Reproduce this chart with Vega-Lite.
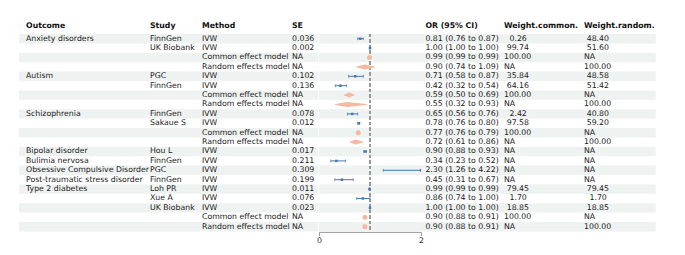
{
  "$schema": "https://vega.github.io/schema/vega-lite/v6.json",
  "padding": {"left": 19, "top": 22, "right": 0, "bottom": 0},
  "background": "white",
  "bounds": "flush",
  "spacing": 0,
  "config": {
    "view": {"stroke": null},
    "font": "DejaVu Sans",
    "text": {"font": "DejaVu Sans", "fontSize": 7.8, "color": "#222"},
    "title": {"anchor": "start", "frame": "group", "font": "DejaVu Sans", "fontSize": 7.8, "fontWeight": "bold", "color": "#111", "offset": 0}
  },
  "datasets": {
    "t": [
      {"row": 1, "outcome": "Anxiety disorders", "study": "FinnGen", "method": "IVW", "se": "0.036", "ortext": "0.81 (0.76 to 0.87)", "wc": "0.26", "wr": "48.40", "est": 0.81, "lo": 0.76, "hi": 0.87},
      {"row": 2, "outcome": "", "study": "UK Biobank", "method": "IVW", "se": "0.002", "ortext": "1.00 (1.00 to 1.00)", "wc": "99.74", "wr": "51.60", "est": 1.0, "lo": 0.997, "hi": 1.003},
      {"row": 3, "outcome": "", "study": "", "method": "Common effect model", "se": "NA", "ortext": "0.99 (0.99 to 0.99)", "wc": "100.00", "wr": "NA", "est": 0.99, "lo": 0.987, "hi": 0.993},
      {"row": 4, "outcome": "", "study": "", "method": "Random effects model", "se": "NA", "ortext": "0.90 (0.74 to 1.09)", "wc": "NA", "wr": "100.00", "est": 0.90, "lo": 0.74, "hi": 1.09},
      {"row": 5, "outcome": "Autism", "study": "PGC", "method": "IVW", "se": "0.102", "ortext": "0.71 (0.58 to 0.87)", "wc": "35.84", "wr": "48.58", "est": 0.71, "lo": 0.58, "hi": 0.87},
      {"row": 6, "outcome": "", "study": "FinnGen", "method": "IVW", "se": "0.136", "ortext": "0.42 (0.32 to 0.54)", "wc": "64.16", "wr": "51.42", "est": 0.42, "lo": 0.32, "hi": 0.54},
      {"row": 7, "outcome": "", "study": "", "method": "Common effect model", "se": "NA", "ortext": "0.59 (0.50 to 0.69)", "wc": "100.00", "wr": "NA", "est": 0.59, "lo": 0.50, "hi": 0.69},
      {"row": 8, "outcome": "", "study": "", "method": "Random effects model", "se": "NA", "ortext": "0.55 (0.32 to 0.93)", "wc": "NA", "wr": "100.00", "est": 0.55, "lo": 0.32, "hi": 0.93},
      {"row": 9, "outcome": "Schizophrenia", "study": "FinnGen", "method": "IVW", "se": "0.078", "ortext": "0.65 (0.56 to 0.76)", "wc": "2.42", "wr": "40.80", "est": 0.65, "lo": 0.56, "hi": 0.76},
      {"row": 10, "outcome": "", "study": "Sakaue S", "method": "IVW", "se": "0.012", "ortext": "0.78 (0.76 to 0.80)", "wc": "97.58", "wr": "59.20", "est": 0.78, "lo": 0.76, "hi": 0.80},
      {"row": 11, "outcome": "", "study": "", "method": "Common effect model", "se": "NA", "ortext": "0.77 (0.76 to 0.79)", "wc": "100.00", "wr": "NA", "est": 0.77, "lo": 0.76, "hi": 0.79},
      {"row": 12, "outcome": "", "study": "", "method": "Random effects model", "se": "NA", "ortext": "0.72 (0.61 to 0.86)", "wc": "NA", "wr": "100.00", "est": 0.72, "lo": 0.61, "hi": 0.86},
      {"row": 13, "outcome": "Bipolar disorder", "study": "Hou L", "method": "IVW", "se": "0.017", "ortext": "0.90 (0.88 to 0.93)", "wc": "NA", "wr": "NA", "est": 0.90, "lo": 0.88, "hi": 0.93},
      {"row": 14, "outcome": "Bulimia nervosa", "study": "FinnGen", "method": "IVW", "se": "0.211", "ortext": "0.34 (0.23 to 0.52)", "wc": "NA", "wr": "NA", "est": 0.34, "lo": 0.23, "hi": 0.52},
      {"row": 15, "outcome": "Obsessive Compulsive Disorder", "study": "PGC", "method": "IVW", "se": "0.309", "ortext": "2.30 (1.26 to 4.22)", "wc": "NA", "wr": "NA", "est": 2.30, "lo": 1.26, "hi": 4.22},
      {"row": 16, "outcome": "Post-traumatic stress disorder", "study": "FinnGen", "method": "IVW", "se": "0.199", "ortext": "0.45 (0.31 to 0.67)", "wc": "NA", "wr": "NA", "est": 0.45, "lo": 0.31, "hi": 0.67},
      {"row": 17, "outcome": "Type 2 diabetes", "study": "Loh PR", "method": "IVW", "se": "0.011", "ortext": "0.99 (0.99 to 0.99)", "wc": "79.45", "wr": "79.45", "est": 0.99, "lo": 0.988, "hi": 0.992},
      {"row": 18, "outcome": "", "study": "Xue A", "method": "IVW", "se": "0.076", "ortext": "0.86 (0.74 to 1.00)", "wc": "1.70", "wr": "1.70", "est": 0.86, "lo": 0.74, "hi": 1.00},
      {"row": 19, "outcome": "", "study": "UK Biobank", "method": "IVW", "se": "0.023", "ortext": "1.00 (1.00 to 1.00)", "wc": "18.85", "wr": "18.85", "est": 1.0, "lo": 0.995, "hi": 1.005},
      {"row": 20, "outcome": "", "study": "", "method": "Common effect model", "se": "NA", "ortext": "0.90 (0.88 to 0.91)", "wc": "100.00", "wr": "NA", "est": 0.90, "lo": 0.88, "hi": 0.91},
      {"row": 21, "outcome": "", "study": "", "method": "Random effects model", "se": "NA", "ortext": "0.90 (0.88 to 0.91)", "wc": "NA", "wr": "100.00", "est": 0.90, "lo": 0.88, "hi": 0.91}
    ]
  },
  "data": {"name": "t"},
  "resolve": {"scale": {"x": "independent"}},
  "hconcat": [
    {
      "width": 131, "height": 197.4,
      "title": {"text": "Outcome", "dx": 7},
      "layer": [
        {"transform": [{"filter": "datum.row % 2 == 1"}], "mark": {"type": "rect", "color": "#EEF2F1"}, "encoding": {"y": {"field": "row", "type": "ordinal", "scale": {"paddingInner": 0, "paddingOuter": 0}, "axis": null}}},
        {"mark": {"type": "text", "align": "left", "baseline": "middle", "dx": 7}, "encoding": {"x": {"datum": 0, "type": "quantitative", "scale": {"domain": [0, 1]}, "axis": null}, "y": {"field": "row", "type": "ordinal", "axis": null}, "text": {"field": "outcome"}}}
      ]
    },
    {
      "width": 52, "height": 197.4,
      "title": {"text": "Study"},
      "layer": [
        {"transform": [{"filter": "datum.row % 2 == 1"}], "mark": {"type": "rect", "color": "#EEF2F1"}, "encoding": {"y": {"field": "row", "type": "ordinal", "scale": {"paddingInner": 0, "paddingOuter": 0}, "axis": null}}},
        {"mark": {"type": "text", "align": "left", "baseline": "middle"}, "encoding": {"x": {"datum": 0, "type": "quantitative", "scale": {"domain": [0, 1]}, "axis": null}, "y": {"field": "row", "type": "ordinal", "axis": null}, "text": {"field": "study"}}}
      ]
    },
    {
      "width": 90, "height": 197.4,
      "title": {"text": "Method"},
      "layer": [
        {"transform": [{"filter": "datum.row % 2 == 1"}], "mark": {"type": "rect", "color": "#EEF2F1"}, "encoding": {"y": {"field": "row", "type": "ordinal", "scale": {"paddingInner": 0, "paddingOuter": 0}, "axis": null}}},
        {"mark": {"type": "text", "align": "left", "baseline": "middle"}, "encoding": {"x": {"datum": 0, "type": "quantitative", "scale": {"domain": [0, 1]}, "axis": null}, "y": {"field": "row", "type": "ordinal", "axis": null}, "text": {"field": "method"}}}
      ]
    },
    {
      "width": 26.3, "height": 197.4,
      "title": {"text": "SE"},
      "layer": [
        {"transform": [{"filter": "datum.row % 2 == 1"}], "mark": {"type": "rect", "color": "#EEF2F1"}, "encoding": {"y": {"field": "row", "type": "ordinal", "scale": {"paddingInner": 0, "paddingOuter": 0}, "axis": null}}},
        {"mark": {"type": "text", "align": "left", "baseline": "middle"}, "encoding": {"x": {"datum": 0, "type": "quantitative", "scale": {"domain": [0, 1]}, "axis": null}, "y": {"field": "row", "type": "ordinal", "axis": null}, "text": {"field": "se"}}}
      ]
    },
    {
      "width": 102, "height": 197.4,
      "layer": [
        {"transform": [{"filter": "datum.row % 2 == 1"}], "mark": {"type": "rect", "color": "#EEF2F1"}, "encoding": {"y": {"field": "row", "type": "ordinal", "scale": {"paddingInner": 0, "paddingOuter": 0}, "axis": null}}},
        {"mark": {"type": "rule", "strokeDash": [3, 2.5], "color": "#9a9a9a", "strokeWidth": 1}, "encoding": {"x": {"datum": 1, "type": "quantitative", "scale": {"domain": [0, 2], "clamp": true, "nice": false, "zero": false}, "axis": {"values": [0, 1, 2], "format": "d", "grid": false, "title": null, "offset": 0.5, "tickSize": 3.5, "domainColor": "#9a9a9a", "tickColor": "#9a9a9a", "labelColor": "#333", "labelFontSize": 7.8, "labelFont": "DejaVu Sans", "labelPadding": 1, "labelFlush": false}}}},
        {"transform": [{"filter": "datum.method === 'IVW'"}], "mark": {"type": "rule", "color": "#4575b4", "strokeWidth": 1}, "encoding": {"x": {"field": "lo", "type": "quantitative", "title": null}, "x2": {"field": "hi"}, "y": {"field": "row", "type": "ordinal", "axis": null}}},
        {"transform": [{"filter": "datum.method === 'IVW'"}], "mark": {"type": "tick", "color": "#4575b4", "thickness": 1, "size": 3}, "encoding": {"x": {"field": "lo", "type": "quantitative", "title": null}, "y": {"field": "row", "type": "ordinal", "axis": null}}},
        {"transform": [{"filter": "datum.method === 'IVW'"}], "mark": {"type": "tick", "color": "#4575b4", "thickness": 1, "size": 3}, "encoding": {"x": {"field": "hi", "type": "quantitative", "title": null}, "y": {"field": "row", "type": "ordinal", "axis": null}}},
        {"transform": [{"filter": "datum.method === 'IVW'"}], "mark": {"type": "point", "shape": "square", "filled": true, "color": "#4575b4", "size": 6, "opacity": 1}, "encoding": {"x": {"field": "est", "type": "quantitative", "title": null}, "y": {"field": "row", "type": "ordinal", "axis": null}}},
        {"transform": [{"filter": "datum.method !== 'IVW'"}], "mark": {"type": "tick", "color": "#EBCB8B", "thickness": 1.5, "size": 4}, "encoding": {"x": {"field": "est", "type": "quantitative", "title": null}, "y": {"field": "row", "type": "ordinal", "axis": null}}},
        {"transform": [{"filter": "datum.method !== 'IVW'"}, {"fold": ["lo", "est", "hi"]}], "mark": {"type": "trail", "color": "#F5B9A2"}, "encoding": {"x": {"field": "value", "type": "quantitative", "title": null}, "y": {"field": "row", "type": "ordinal", "axis": null}, "detail": {"field": "row"}, "size": {"condition": {"test": "datum.key === 'est'", "value": 5}, "value": 0}}}
      ]
    },
    {
      "width": 83, "height": 197.4,
      "title": {"text": "OR (95% CI)", "dx": 4.4},
      "layer": [
        {"transform": [{"filter": "datum.row % 2 == 1"}], "mark": {"type": "rect", "color": "#EEF2F1"}, "encoding": {"y": {"field": "row", "type": "ordinal", "scale": {"paddingInner": 0, "paddingOuter": 0}, "axis": null}}},
        {"mark": {"type": "text", "align": "left", "baseline": "middle", "dx": 4.4}, "encoding": {"x": {"datum": 0, "type": "quantitative", "scale": {"domain": [0, 1]}, "axis": null}, "y": {"field": "row", "type": "ordinal", "axis": null}, "text": {"field": "ortext"}}}
      ]
    },
    {
      "width": 80, "height": 197.4,
      "title": {"text": "Weight.common."},
      "layer": [
        {"transform": [{"filter": "datum.row % 2 == 1"}], "mark": {"type": "rect", "color": "#EEF2F1"}, "encoding": {"y": {"field": "row", "type": "ordinal", "scale": {"paddingInner": 0, "paddingOuter": 0}, "axis": null}}},
        {"transform": [{"filter": "length(datum.wc) != 4 && length(datum.wc) != 5"}], "mark": {"type": "text", "align": "left", "baseline": "middle"}, "encoding": {"x": {"datum": 0, "type": "quantitative", "scale": {"domain": [0, 1]}, "axis": null}, "y": {"field": "row", "type": "ordinal", "axis": null}, "text": {"field": "wc"}}},
        {"transform": [{"filter": "length(datum.wc) == 5"}], "mark": {"type": "text", "align": "left", "baseline": "middle", "dx": 2.7}, "encoding": {"x": {"datum": 0, "type": "quantitative", "scale": {"domain": [0, 1]}, "axis": null}, "y": {"field": "row", "type": "ordinal", "axis": null}, "text": {"field": "wc"}}},
        {"transform": [{"filter": "length(datum.wc) == 4"}], "mark": {"type": "text", "align": "left", "baseline": "middle", "dx": 5.5}, "encoding": {"x": {"datum": 0, "type": "quantitative", "scale": {"domain": [0, 1]}, "axis": null}, "y": {"field": "row", "type": "ordinal", "axis": null}, "text": {"field": "wc"}}}
      ]
    },
    {
      "width": 71.7, "height": 197.4,
      "title": {"text": "Weight.random."},
      "layer": [
        {"transform": [{"filter": "datum.row % 2 == 1"}], "mark": {"type": "rect", "color": "#EEF2F1"}, "encoding": {"y": {"field": "row", "type": "ordinal", "scale": {"paddingInner": 0, "paddingOuter": 0}, "axis": null}}},
        {"transform": [{"filter": "length(datum.wr) != 4 && length(datum.wr) != 5"}], "mark": {"type": "text", "align": "left", "baseline": "middle"}, "encoding": {"x": {"datum": 0, "type": "quantitative", "scale": {"domain": [0, 1]}, "axis": null}, "y": {"field": "row", "type": "ordinal", "axis": null}, "text": {"field": "wr"}}},
        {"transform": [{"filter": "length(datum.wr) == 5"}], "mark": {"type": "text", "align": "left", "baseline": "middle", "dx": 2.7}, "encoding": {"x": {"datum": 0, "type": "quantitative", "scale": {"domain": [0, 1]}, "axis": null}, "y": {"field": "row", "type": "ordinal", "axis": null}, "text": {"field": "wr"}}},
        {"transform": [{"filter": "length(datum.wr) == 4"}], "mark": {"type": "text", "align": "left", "baseline": "middle", "dx": 5.5}, "encoding": {"x": {"datum": 0, "type": "quantitative", "scale": {"domain": [0, 1]}, "axis": null}, "y": {"field": "row", "type": "ordinal", "axis": null}, "text": {"field": "wr"}}}
      ]
    }
  ]
}
